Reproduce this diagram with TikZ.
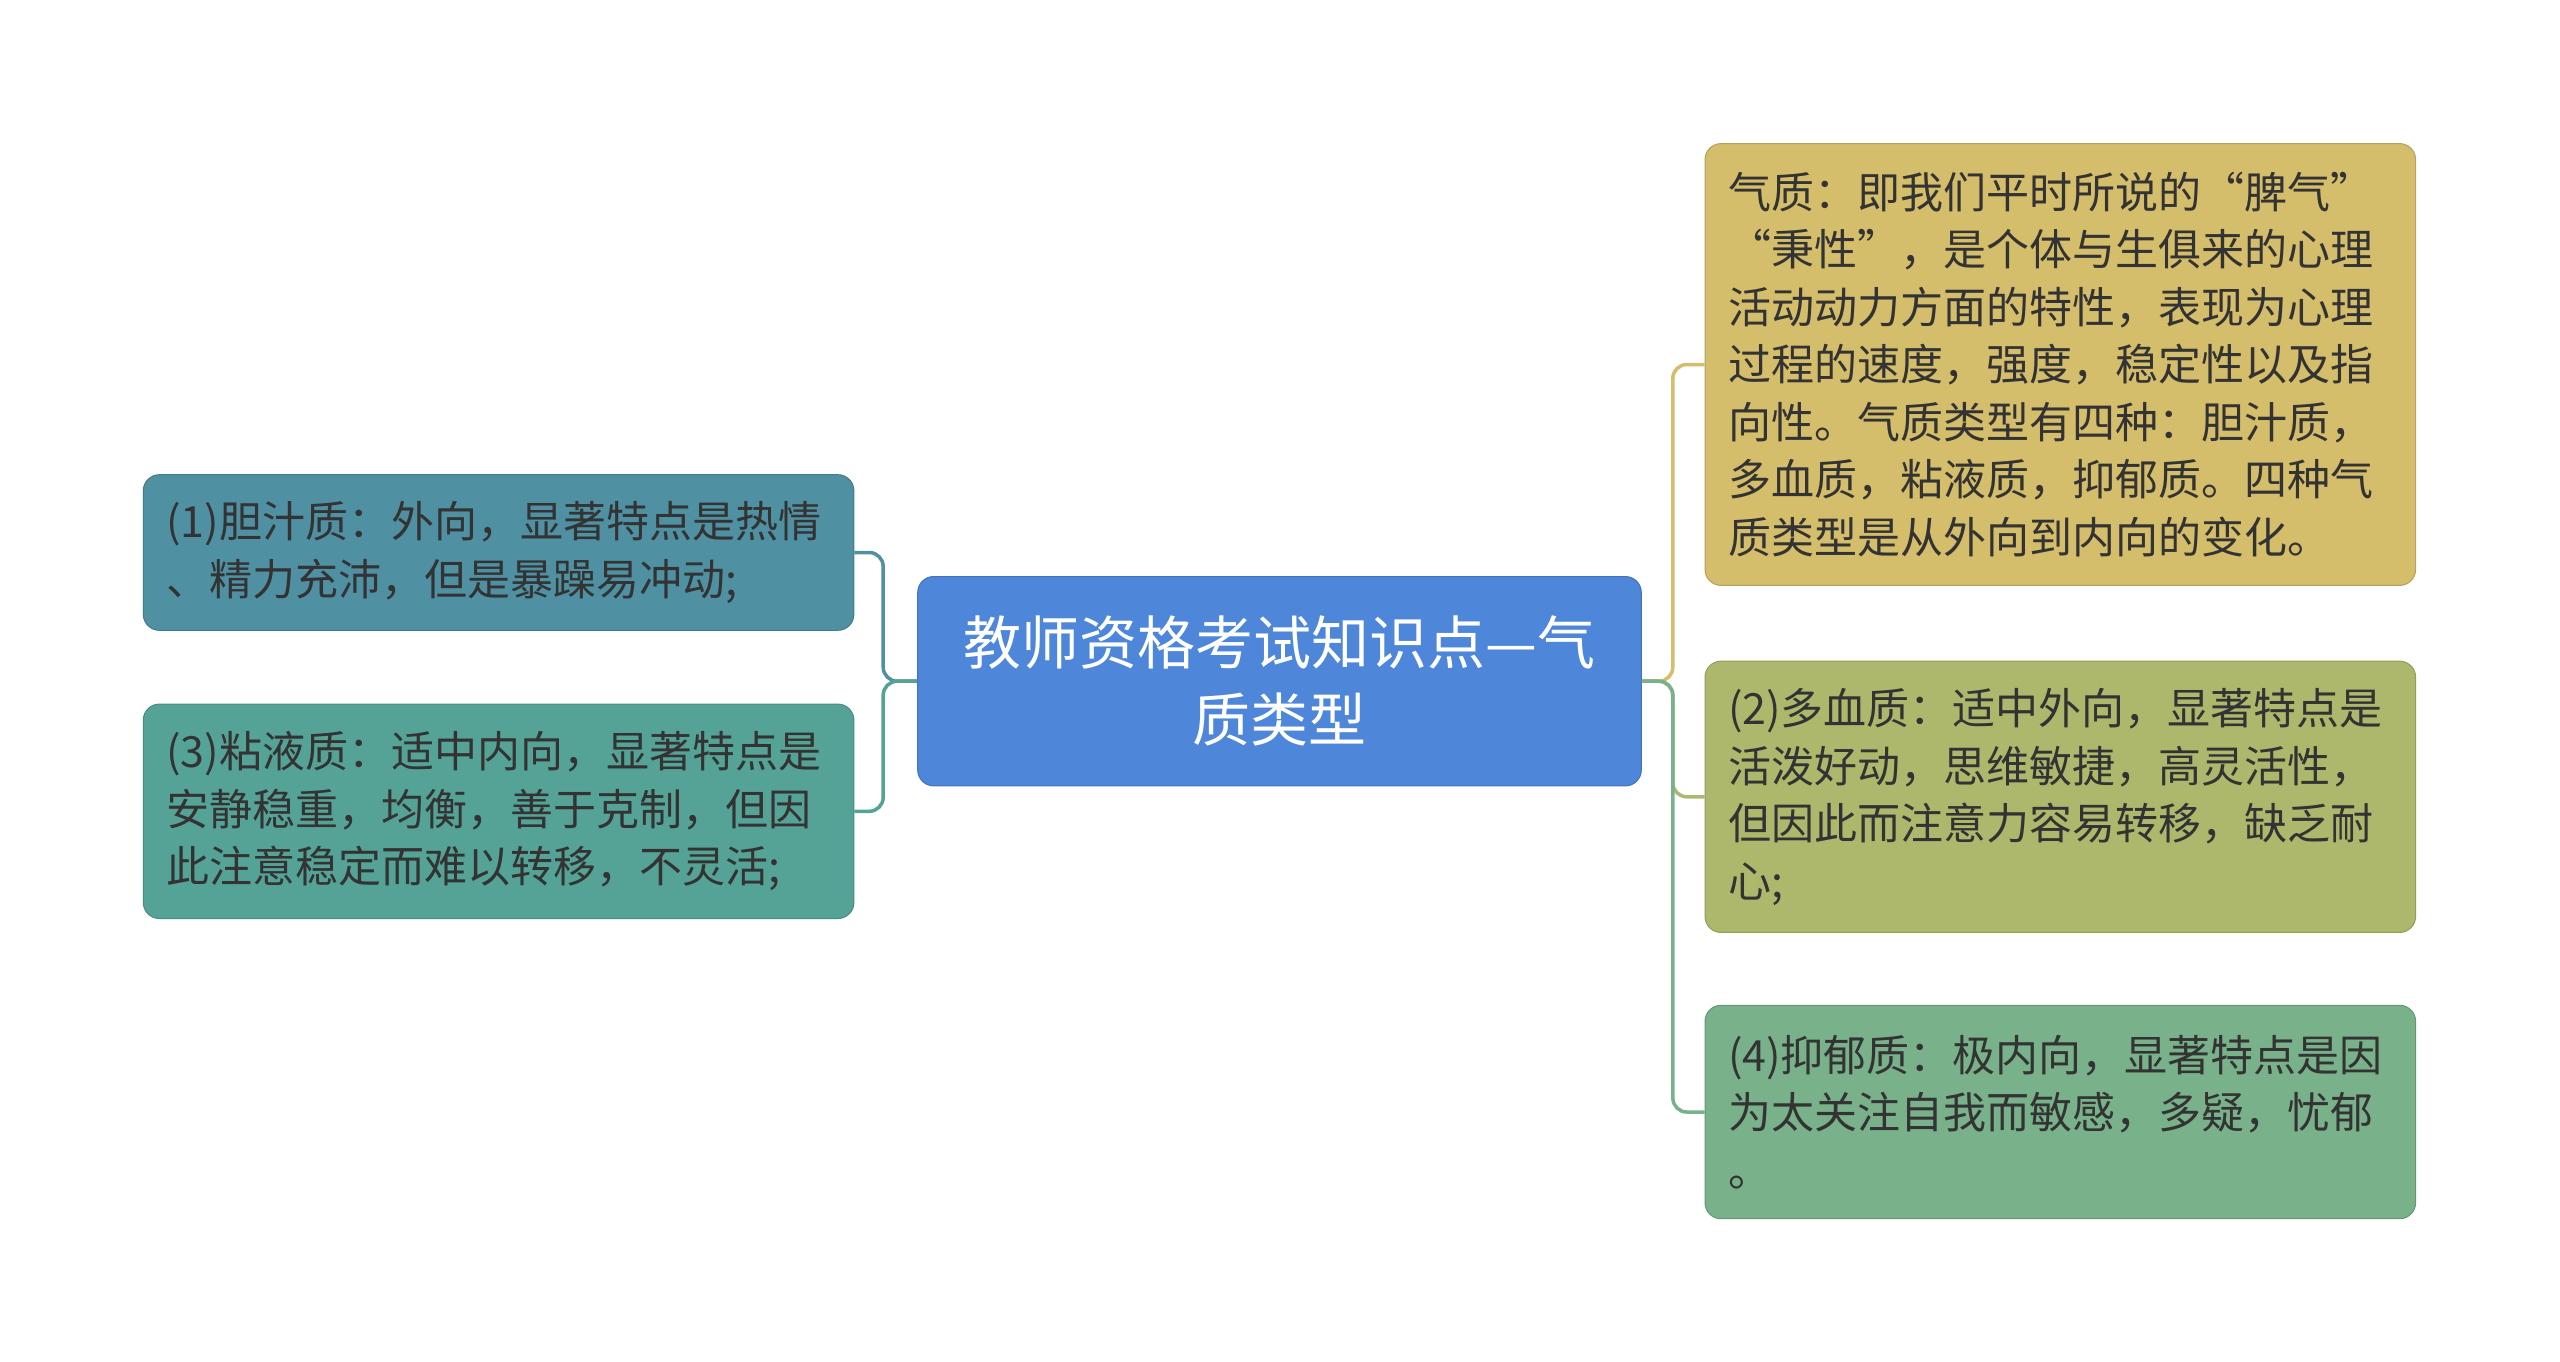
\documentclass[tikz,border=0pt]{standalone}
\usepackage{fontspec}
\setmainfont{Noto Sans CJK SC}
\newcommand{\fwq}[1]{{\addfontfeature{RawFeature=+fwid}#1}}
\definecolor{cLone}{HTML}{4F91A3}
\definecolor{cLthree}{HTML}{55A397}
\definecolor{cRoot}{HTML}{4E86D9}
\definecolor{cRone}{HTML}{D4BD6B}
\definecolor{cRtwo}{HTML}{AEB86C}
\definecolor{cRfour}{HTML}{78B18A}
\definecolor{txt}{HTML}{333333}
\begin{document}
\begin{tikzpicture}[x=1pt,y=-1pt,
  leaf/.style={rounded corners=16pt, minimum width=710.6pt, text width=664.6pt,
    inner xsep=23pt, inner ysep=0pt, align=left,
    font=\fontsize{43}{57.5}\selectfont, text=txt},
  rootbox/.style={rounded corners=16pt, fill=cRoot, draw=cRoot!85!black, line width=1pt,
    minimum width=723.6pt, text width=677.6pt, inner xsep=23pt, inner ysep=0pt,
    minimum height=209.4pt, align=center,
    font=\fontsize{58}{77}\selectfont, text=white},
  link/.style={line width=3.5pt, rounded corners=14pt}]
\fill[white] (0,0) rectangle (2560,1361);
\useasboundingbox (0,0) rectangle (2560,1361);

\node[rootbox] (root) at (1279.5,681.2) {教师资格考试知识点—气\\质类型};

\node[leaf, fill=cLone, draw=cLone!85!black, line width=1pt, minimum height=155.6pt] (L1) at (498.6,552.5)
  {(1)胆汁质：外向，显著特点是热情\\、精力充沛，但是暴躁易冲动;};
\node[leaf, fill=cLthree, draw=cLthree!85!black, line width=1pt, minimum height=214.4pt] (L3) at (498.6,811.3)
  {(3)粘液质：适中内向，显著特点是\\安静稳重，均衡，善于克制，但因\\此注意稳定而难以转移，不灵活;};

\node[leaf, fill=cRone, draw=cRone!85!black, line width=1pt, minimum height=441.8pt] (R1) at (2060.3,364.5)
  {气质：即我们平时所说的\fwq{“}脾气\fwq{”}\\\fwq{“}秉性\fwq{”}，是个体与生俱来的心理\\活动动力方面的特性，表现为心理\\过程的速度，强度，稳定性以及指\\向性。气质类型有四种：胆汁质，\\多血质，粘液质，抑郁质。四种气\\质类型是从外向到内向的变化。};
\node[leaf, fill=cRtwo, draw=cRtwo!85!black, line width=1pt, minimum height=271.3pt] (R2) at (2060.3,796.8)
  {(2)多血质：适中外向，显著特点是\\活泼好动，思维敏捷，高灵活性，\\但因此而注意力容易转移，缺乏耐\\心;};
\node[leaf, fill=cRfour, draw=cRfour!85!black, line width=1pt, minimum height=213.4pt] (R4) at (2060.3,1112)
  {(4)抑郁质：极内向，显著特点是因\\为太关注自我而敏感，多疑，忧郁\\。};

\draw[link, cLone] (root.west) -- ++(-34,0) |- (L1.east);
\draw[link, cLthree] (root.west) -- ++(-34,0) |- (L3.east);
\draw[link, cRone] (root.east) -- ++(31,0) |- (R1.west);
\draw[link, cRtwo] (root.east) -- ++(31,0) |- (R2.west);
\draw[link, cRfour] (root.east) -- ++(31,0) |- (R4.west);
\end{tikzpicture}
\end{document}
